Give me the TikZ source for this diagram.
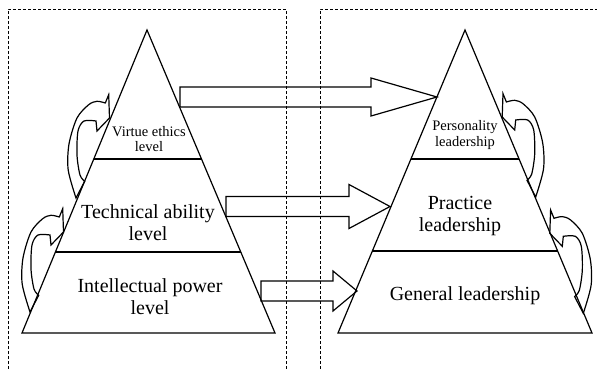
\documentclass[tikz,border=0pt]{standalone}
\usepackage{fontspec}
\setmainfont{Liberation Serif}
\usetikzlibrary{calc}

\tikzset{
	pyr/.style={line width=1.2pt, line join=miter},
	boxline/.style={line width=0.8pt, dash pattern=on 3pt off 2pt},
	bigtext/.style={font=\fontsize{20}{22}\selectfont, align=center, inner sep=0pt},
	smalltext/.style={font=\fontsize{14.5}{15.5}\selectfont, align=center, inner sep=0pt},
	curl/.pic={
		\draw[pyr] plot[smooth] coordinates {(0,0) (-7.8,-28) (-7,-54) (1,-80) (12.7,-93.3) (21,-96.7) (29.3,-95)}
			-- (32.7,-103.3) -- (33.5,-80) -- (21,-67)
			-- plot[smooth] coordinates {(20,-77) (8,-77) (2,-67) (1,-43) (4,-23) (8.7,-16.7)} -- cycle;
	}
}

\newcommand{\bigarrow}[4]{%
	\draw[pyr] ($(#1)+(0,-10)$) -- ($(#2)+(-#3,-10)$) -- ($(#2)+(-#3,-#4)$) -- (#2)
		-- ($(#2)+(-#3,#4)$) -- ($(#2)+(-#3,10)$) -- ($(#1)+(0,10)$) -- cycle;}

\begin{document}
\begin{tikzpicture}[x=1pt, y=-1pt]
	\useasboundingbox (0,0) rectangle (597,369);

	\draw[boxline] (8,369) -- (8,9) -- (286,9) -- (286,369);
	\draw[boxline] (320,369) -- (320,9) -- (597,9);

	\coordinate (LA) at (147,30);
	\coordinate (LB) at (22,333);
	\coordinate (LC) at (275,333);
	\coordinate (RA) at (465,30);
	\coordinate (RB) at (338,333);
	\coordinate (RC) at (592,333);

	\draw[pyr] (LA) -- (LB) -- (LC) -- cycle;
	\draw[pyr] ($(LA)!0.4257!(LB)$) -- ($(LA)!0.4257!(LC)$);
	\draw[pyr] ($(LA)!0.7327!(LB)$) -- ($(LA)!0.7327!(LC)$);

	\draw[pyr] (RA) -- (RB) -- (RC) -- cycle;
	\draw[pyr] ($(RA)!0.4257!(RB)$) -- ($(RA)!0.4257!(RC)$);
	\draw[pyr] ($(RA)!0.7294!(RB)$) -- ($(RA)!0.7294!(RC)$);

	\node[smalltext] (virtue) at (149,139) {Virtue ethics\\level};
	\node[bigtext] (technical) at (148,223) {Technical ability\\level};
	\node[bigtext] (intellect) at (150,297) {Intellectual power\\level};

	\node[smalltext] (personal) at (465,135) {Personality\\leadership};
	\node[bigtext] (practice) at (460,216) {Practice\\leadership};
	\node[bigtext] (general) at (465,296) {General leadership};

	\coordinate (a1s) at (180,97);
	\coordinate (a1t) at (437,97);
	\coordinate (a2s) at (226,206.5);
	\coordinate (a2t) at (390,206.5);
	\coordinate (a3s) at (261,291);
	\coordinate (a3t) at (357,291);
	\bigarrow{a1s}{a1t}{66}{19}
	\bigarrow{a2s}{a2t}{41}{22}
	\bigarrow{a3s}{a3t}{24}{20}

	\pic at (76,198) {curl};
	\pic at (30,312) {curl};
	\pic[xscale=-1] at (535.7,197) {curl};
	\pic[xscale=-1] at (583.3,313.3) {curl};
\end{tikzpicture}
\end{document}
